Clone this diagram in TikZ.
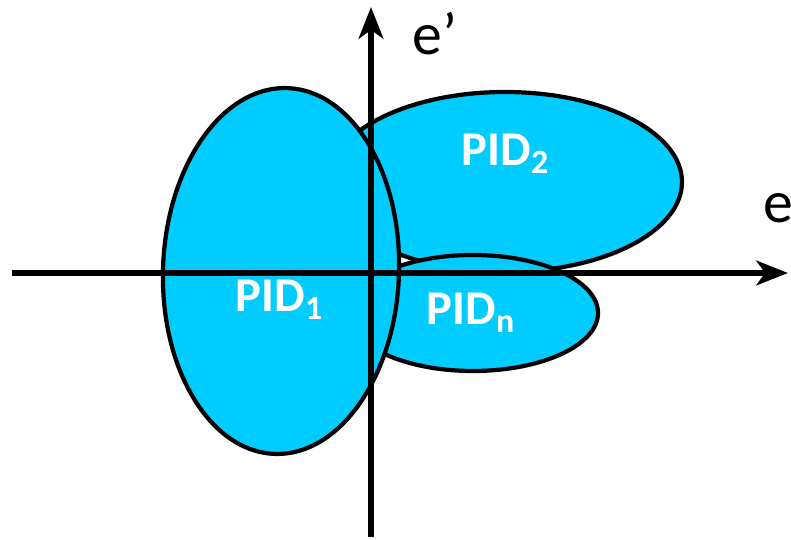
\documentclass[tikz,border=0pt]{standalone}
\usepackage{fontspec}
\setmainfont{Carlito}
\usepackage{xcolor}
\usepackage{tikz}
\usetikzlibrary{arrows.meta, positioning, calc}
\definecolor{pidcyan}{RGB}{0, 204, 255}
\tikzset{
    axisline/.style={line width=1.8pt, -{Stealth[length=9pt, width=7pt, inset=2.5pt]}},
    pidregion/.style={fill=pidcyan, draw=black, line width=1.2pt},
    pidlabel/.style={text=white, font=\fontsize{13.8}{16}\selectfont\bfseries,
        inner sep=0pt, anchor=base west},
    axislabel/.style={font=\fontsize{17}{20}\selectfont, inner sep=0pt, anchor=base west}
}

\begin{document}
\begin{tikzpicture}[scale=1.0]
    \useasboundingbox (0,0) rectangle (7.91,5.40);

    % REGIONS: PID2 at the back, PIDn over it, PID1 in front
    \filldraw[pidregion] (5.05,3.58) ellipse [x radius=1.77, y radius=0.90];
    \filldraw[pidregion] (4.73,2.27) ellipse [x radius=1.25, y radius=0.58];
    \filldraw[pidregion, rotate around={-2:(2.81,2.69)}]
        (2.81,2.69) ellipse [x radius=1.18, y radius=1.83];

    \node[pidlabel] (pid1) at (2.35,2.28) {PID\textsubscript{1}};
    \node[pidlabel] (pid2) at (4.61,3.74) {PID\textsubscript{2}};
    \node[pidlabel] (pidn) at (4.26,2.15) {PID\textsubscript{n}};

    % AXES
    \coordinate (xstart) at (0.12,2.67);
    \coordinate (xend) at (7.88,2.67);
    \coordinate (ystart) at (3.71,0.03);
    \coordinate (yend) at (3.71,5.33);
    \draw[axisline] (xstart) -- (xend);
    \draw[axisline] (ystart) -- (yend);

    \node[axislabel] (elabel) at (7.63,3.17) {e};
    \node[axislabel] (eprime) at (4.12,4.85) {e’};

\end{tikzpicture}
\end{document}
